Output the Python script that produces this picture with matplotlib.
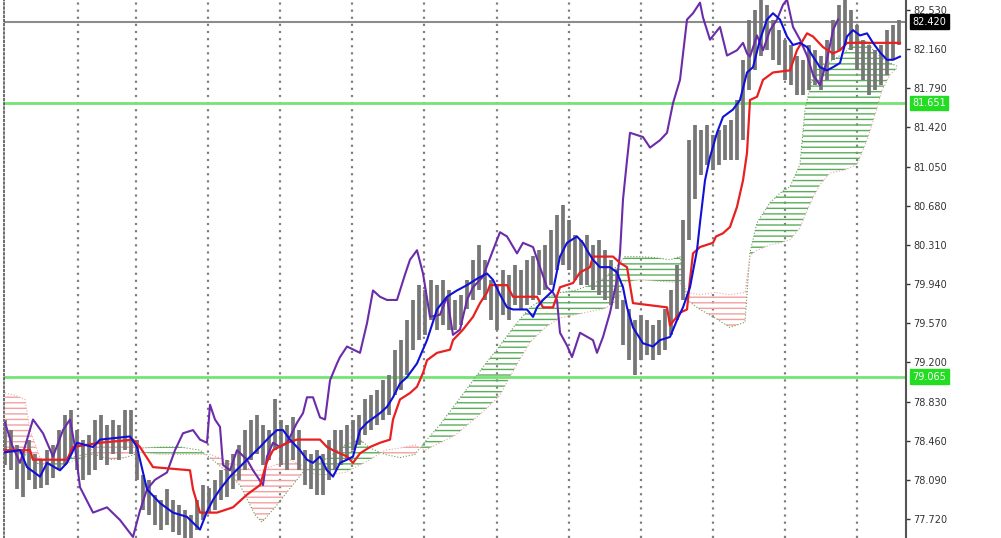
import numpy as np
import matplotlib.pyplot as plt

# Ichimoku chart (hourly bars); time axis in 10-minute units
bar_high = [78.66, 78.56, 78.42, 78.37, 78.47, 78.33, 78.28, 78.37, 78.42, 78.56,
            78.70, 78.75, 78.56, 78.47, 78.51, 78.66, 78.70, 78.61, 78.66, 78.61,
            78.75, 78.75, 78.47, 78.14, 78.09, 77.95, 77.90, 78.00, 77.90, 77.85,
            77.80, 77.76, 77.90, 78.04, 78.01, 78.09, 78.18, 78.28, 78.33, 78.42,
            78.56, 78.66, 78.70, 78.61, 78.56, 78.85, 78.66, 78.61, 78.68, 78.56,
            78.37, 78.33, 78.37, 78.33, 78.47, 78.56, 78.56, 78.61, 78.66, 78.70,
            78.85, 78.89, 78.94, 79.03, 79.08, 79.32, 79.41, 79.60, 79.79, 79.93,
            79.88, 79.98, 79.93, 79.98, 79.88, 79.79, 79.84, 79.98, 80.17, 80.31,
            80.17, 79.98, 79.93, 80.07, 80.03, 80.12, 80.07, 80.17, 80.21, 80.26,
            80.31, 80.45, 80.59, 80.69, 80.55, 80.40, 80.36, 80.40, 80.31, 80.36,
            80.26, 80.17, 80.07, 79.79, 79.70, 79.60, 79.65, 79.60, 79.55, 79.60,
            79.70, 79.88, 80.12, 80.55, 81.30, 81.44, 81.40, 81.44, 81.35, 81.40,
            81.44, 81.49, 81.68, 82.06, 82.44, 82.53, 82.63, 82.58, 82.44, 82.34,
            82.25, 82.20, 82.10, 82.06, 82.20, 82.15, 82.10, 82.25, 82.44, 82.58,
            82.63, 82.53, 82.39, 82.25, 82.20, 82.15, 82.20, 82.34, 82.39, 82.44]
bar_low = [78.23, 78.18, 78.00, 77.93, 78.09, 78.00, 78.01, 78.04, 78.11, 78.18,
           78.23, 78.33, 78.18, 78.09, 78.14, 78.18, 78.28, 78.23, 78.33, 78.28,
           78.37, 78.33, 78.09, 77.80, 77.76, 77.66, 77.62, 77.66, 77.60, 77.57,
           77.54, 77.52, 77.62, 77.71, 77.79, 77.80, 77.90, 77.93, 78.00, 78.09,
           78.18, 78.28, 78.33, 78.23, 78.28, 78.37, 78.23, 78.18, 78.28, 78.18,
           78.04, 78.00, 77.95, 77.95, 78.09, 78.18, 78.23, 78.28, 78.37, 78.42,
           78.51, 78.56, 78.61, 78.66, 78.70, 78.89, 78.94, 79.08, 79.32, 79.41,
           79.46, 79.60, 79.51, 79.55, 79.51, 79.51, 79.55, 79.70, 79.79, 79.88,
           79.79, 79.60, 79.51, 79.65, 79.60, 79.74, 79.70, 79.74, 79.79, 79.84,
           79.88, 79.93, 80.07, 80.12, 80.07, 79.98, 79.93, 79.93, 79.88, 79.84,
           79.79, 79.74, 79.70, 79.36, 79.22, 79.08, 79.22, 79.27, 79.22, 79.27,
           79.32, 79.46, 79.60, 79.79, 80.36, 80.74, 80.97, 81.07, 81.02, 81.07,
           81.11, 81.11, 81.11, 81.30, 81.77, 81.96, 82.10, 82.15, 82.06, 82.01,
           81.87, 81.82, 81.73, 81.73, 81.77, 81.82, 81.77, 81.87, 82.06, 82.15,
           82.20, 82.15, 81.96, 81.87, 81.73, 81.77, 81.82, 81.92, 82.06, 82.20]

# Chikou span (purple)
chikou_t = [0, 7, 15, 22, 28, 38, 48, 58, 65, 70, 75, 88, 102, 115, 128, 135, 142, 150, 162, 170,
            178, 188, 195, 202, 205, 210, 215, 218, 225, 232, 242, 248, 258, 262, 268, 275, 282, 292, 298, 302,
            308, 315, 320, 325, 332, 335, 342, 355, 362, 368, 375, 382, 392, 400, 405, 412, 418, 425, 435, 442,
            448, 455, 462, 468, 478, 488, 495, 502, 512, 518, 528, 535, 542, 548, 552, 555, 562, 567, 575, 588,
            592, 598, 605, 612, 615, 618, 622, 625, 638, 645, 655, 662, 668, 675, 682, 688, 695, 698, 705, 715,
            722, 732, 738, 742, 745, 752, 758, 765, 772, 778, 782, 788, 795, 802, 808, 815, 822, 828, 833]
chikou = [78.63, 78.42, 78.25, 78.47, 78.66, 78.53, 78.31, 78.56, 78.66, 78.40, 78.02, 77.78, 77.83, 77.71, 77.55, 77.80, 78.00, 78.09, 78.16, 78.37,
          78.53, 78.56, 78.47, 78.44, 78.80, 78.66, 78.59, 78.23, 78.18, 78.37, 78.28, 78.18, 78.04, 78.31, 78.44, 78.40, 78.44, 78.63, 78.72, 78.87,
          78.87, 78.68, 78.66, 79.03, 79.19, 79.25, 79.35, 79.29, 79.57, 79.88, 79.82, 79.79, 79.79, 80.03, 80.17, 80.26, 80.04, 79.63, 79.65, 79.82,
          79.46, 79.51, 79.79, 79.91, 80.01, 80.26, 80.43, 80.39, 80.23, 80.33, 80.29, 80.10, 79.91, 79.86, 79.79, 79.48, 79.36, 79.25, 79.48, 79.41,
          79.29, 79.44, 79.67, 79.98, 80.23, 80.74, 81.11, 81.37, 81.33, 81.23, 81.30, 81.37, 81.65, 81.87, 82.44, 82.50, 82.60, 82.46, 82.25, 82.37,
          82.10, 82.15, 82.22, 82.12, 82.09, 82.29, 82.15, 82.34, 82.44, 82.58, 82.63, 82.37, 82.25, 82.10, 81.92, 81.82, 82.06, 82.34, 82.44]

# Tenkan-sen (blue)
tenkan_t = [0, 15, 22, 35, 42, 55, 62, 72, 88, 95, 125, 132, 142, 155, 168, 182, 195, 202, 208, 215,
            225, 242, 255, 265, 272, 278, 285, 295, 302, 308, 315, 322, 328, 335, 342, 348, 355, 362, 375, 382,
            388, 395, 402, 412, 422, 432, 442, 452, 462, 472, 482, 488, 495, 502, 508, 522, 528, 532, 538, 548,
            555, 562, 572, 578, 582, 588, 595, 605, 612, 618, 622, 628, 638, 648, 655, 665, 672, 678, 685, 692,
            695, 700, 705, 712, 718, 728, 735, 742, 748, 755, 762, 768, 775, 782, 788, 795, 802, 808, 815, 822,
            828, 835, 842, 848, 855, 862, 868, 875, 882, 888, 895]
tenkan = [78.35, 78.37, 78.21, 78.12, 78.25, 78.18, 78.25, 78.44, 78.40, 78.47, 78.50, 78.40, 78.00, 77.87, 77.78, 77.74, 77.62, 77.79, 77.90, 78.00,
          78.12, 78.28, 78.40, 78.50, 78.56, 78.56, 78.47, 78.37, 78.28, 78.25, 78.31, 78.18, 78.12, 78.25, 78.28, 78.31, 78.56, 78.63, 78.72, 78.78,
          78.87, 79.00, 79.06, 79.19, 79.41, 79.70, 79.82, 79.88, 79.93, 79.99, 80.04, 79.98, 79.84, 79.72, 79.70, 79.70, 79.63, 79.72, 79.79, 79.88,
          80.20, 80.33, 80.39, 80.33, 80.26, 80.17, 80.10, 80.10, 80.05, 79.91, 79.72, 79.53, 79.38, 79.35, 79.41, 79.44, 79.60, 79.72, 79.91, 80.26,
          80.52, 80.92, 81.14, 81.37, 81.52, 81.59, 81.68, 81.94, 81.99, 82.25, 82.44, 82.50, 82.44, 82.28, 82.20, 82.22, 82.18, 82.09, 81.99, 81.96,
          81.99, 82.03, 82.28, 82.34, 82.29, 82.31, 82.22, 82.13, 82.06, 82.06, 82.09]

# Kijun-sen (red)
kijun_t = [0, 25, 28, 62, 68, 95, 128, 135, 148, 185, 188, 195, 212, 228, 242, 255, 262, 268, 282, 292,
           315, 322, 328, 342, 348, 355, 365, 375, 385, 388, 395, 405, 412, 418, 422, 432, 445, 448, 458, 468,
           475, 482, 485, 502, 508, 532, 538, 548, 555, 568, 575, 585, 588, 608, 615, 622, 628, 662, 665, 675,
           682, 685, 688, 695, 708, 711, 718, 725, 732, 738, 742, 745, 752, 758, 768, 785, 792, 802, 808, 818,
           828, 835, 842, 895]
kijun = [78.37, 78.37, 78.28, 78.28, 78.40, 78.44, 78.47, 78.40, 78.21, 78.18, 78.00, 77.78, 77.78, 77.83, 77.95, 78.04, 78.26, 78.37, 78.44, 78.47,
         78.47, 78.40, 78.37, 78.31, 78.25, 78.34, 78.40, 78.44, 78.47, 78.66, 78.85, 78.91, 78.97, 79.10, 79.22, 79.29, 79.32, 79.41, 79.51, 79.63,
         79.76, 79.86, 79.93, 79.93, 79.82, 79.82, 79.72, 79.72, 79.91, 79.95, 80.05, 80.10, 80.20, 80.20, 80.14, 80.10, 79.76, 79.72, 79.55, 79.67,
         79.70, 79.98, 80.23, 80.29, 80.33, 80.39, 80.42, 80.48, 80.67, 80.92, 81.18, 81.68, 81.71, 81.87, 81.94, 81.96, 82.15, 82.31, 82.28, 82.18,
         82.12, 82.15, 82.22, 82.22]

# Senkou span A / B (cloud)
cloud_t = [0, 10, 20, 25, 35, 50, 65, 80, 90, 105, 120, 130, 135, 155, 175, 195, 205, 220, 235, 250,
           257, 270, 285, 298, 310, 325, 340, 355, 365, 380, 395, 410, 420, 435, 450, 465, 480, 495, 510, 525,
           540, 555, 570, 585, 600, 613, 620, 635, 650, 665, 675, 682, 695, 710, 725, 740, 745, 752, 765, 775,
           785, 795, 800, 808, 815, 825, 840, 852, 862, 870, 877, 885, 892]
span_a = [78.37, 78.35, 78.33, 78.30, 78.23, 78.26, 78.30, 78.33, 78.33, 78.28, 78.30, 78.33, 78.39, 78.40, 78.40, 78.37, 78.30, 78.18, 78.04, 77.76,
          77.69, 77.83, 78.01, 78.16, 78.23, 78.31, 78.42, 78.47, 78.39, 78.33, 78.30, 78.33, 78.45, 78.61, 78.80, 78.99, 79.18, 79.36, 79.55, 79.72,
          79.81, 79.86, 79.88, 79.93, 80.00, 80.12, 80.20, 80.20, 80.19, 80.17, 80.20, 79.79, 79.70, 79.62, 79.53, 79.58, 80.24, 80.52, 80.71, 80.80,
          80.86, 81.07, 81.59, 81.92, 82.01, 82.04, 82.13, 82.25, 82.23, 82.13, 82.08, 82.03, 82.00]
span_b = [78.91, 78.89, 78.85, 78.56, 78.30, 78.20, 78.26, 78.30, 78.42, 78.47, 78.47, 78.40, 78.35, 78.33, 78.33, 78.33, 78.33, 78.28, 78.22, 78.18,
          78.18, 78.23, 78.28, 78.22, 78.14, 78.14, 78.16, 78.23, 78.28, 78.37, 78.39, 78.42, 78.37, 78.44, 78.51, 78.63, 78.75, 78.89, 79.15, 79.39,
          79.53, 79.62, 79.65, 79.68, 79.71, 79.79, 79.96, 79.98, 79.97, 79.96, 79.95, 79.86, 79.84, 79.86, 79.84, 79.86, 80.21, 80.26, 80.31, 80.33,
          80.36, 80.47, 80.59, 80.76, 80.88, 80.99, 81.02, 81.07, 81.30, 81.54, 81.77, 81.92, 81.98]

# levels and axis labels
last_price = 82.42
levels = [81.651, 79.065]
price_ticks = [77.72, 78.09, 78.46, 78.83, 79.20, 79.57, 79.94, 80.31, 80.68, 81.05, 81.42, 81.79, 82.16, 82.53]
grid_t = [73, 131, 203, 275, 347, 419, 492, 564, 636, 708, 780, 852]

bar_t = np.arange(len(bar_high)) * 6

fig = plt.figure(figsize=(10.01, 5.38), dpi=100)
ax = fig.add_axes([4 / 1001, 0, 902 / 1001, 1])
ax.set_xlim(-1, 901)
ax.set_ylim(77.54, 82.625)

# vertical dotted grid
for g in grid_t:
    ax.axvline(g, color='#808080', lw=1.6, ls=(0, (1, 2.2)), zorder=1)

# horizontal levels
ax.axhline(last_price, color='#8c8c8c', lw=1.5, zorder=1)
for lv in levels:
    ax.axhline(lv, color='#74e474', lw=2.0, zorder=1)

# cloud (hatched)
plt.rcParams['hatch.linewidth'] = 1.0
a = np.array(span_a)
b = np.array(span_b)
ax.fill_between(cloud_t, a, b, where=a >= b, interpolate=True, facecolor='none',
                edgecolor='#5aae5a', hatch='---', lw=0, zorder=2)
ax.fill_between(cloud_t, a, b, where=a < b, interpolate=True, facecolor='none',
                edgecolor='#f2a0a0', hatch='---', lw=0, zorder=2)
ax.plot(cloud_t, span_a, color='#6a9e5a', lw=0.8, ls=':', zorder=2)
ax.plot(cloud_t, span_b, color='#e8a8a8', lw=0.8, ls=':', zorder=2)

# price bars
ax.vlines(bar_t, bar_low, bar_high, color='#767676', lw=2.7, zorder=3)

# indicator lines
ax.plot(chikou_t, chikou, color='#6a2ca8', lw=1.5, zorder=4)
ax.plot(kijun_t, kijun, color='#e82020', lw=1.6, zorder=5)
ax.plot(tenkan_t, tenkan, color='#1010d8', lw=1.5, zorder=6)

# axes styling
for s in ['top', 'bottom']:
    ax.spines[s].set_visible(False)
ax.spines['left'].set_linestyle((0, (1, 1.5)))
ax.spines['left'].set_color('#555555')
ax.spines['left'].set_linewidth(1.2)
ax.spines['right'].set_color('#555555')
ax.spines['right'].set_linewidth(1.5)
ax.set_xticks([])
ax.yaxis.tick_right()
ax.set_yticks(price_ticks)
ax.set_yticklabels(['%.3f' % p for p in price_ticks])
ax.tick_params(axis='y', length=3, width=1, pad=2, labelsize=7, colors='#333333')

# price labels on the right
ax.text(1.007, last_price, '%.3f' % last_price, transform=ax.get_yaxis_transform(),
        fontsize=7, color='white', va='center', ha='left',
        bbox=dict(boxstyle='square,pad=0.25', fc='black', ec='black'))
for lv in levels:
    ax.text(1.007, lv, '%.3f' % lv, transform=ax.get_yaxis_transform(),
            fontsize=7, color='white', va='center', ha='left',
            bbox=dict(boxstyle='square,pad=0.25', fc='#22dd22', ec='#22dd22'))

fig.savefig('out.png', dpi=100)
